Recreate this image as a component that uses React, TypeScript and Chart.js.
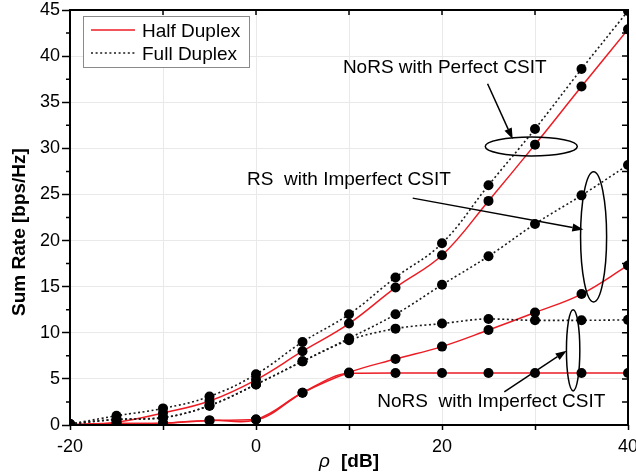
import React, { useEffect, useRef } from 'react';
import { Chart, registerables } from 'chart.js';

Chart.register(...registerables);

// ---------- data ----------
const rho = [-20, -15, -10, -5, 0, 5, 10, 15, 20, 25, 30, 35, 40];
const norsPerfectFD = [0.1, 1.0, 1.8, 3.1, 5.5, 9.0, 12.0, 16.0, 19.7, 26.0, 32.1, 38.6, 44.9];
const norsPerfectHD = [0.05, 0.3, 1.3, 2.6, 4.9, 8.0, 11.0, 14.9, 18.4, 24.3, 30.4, 36.7, 42.9];
const rsImperfectFD = [0.1, 0.6, 0.8, 2.1, 4.4, 6.9, 9.4, 12.0, 15.2, 18.3, 21.8, 24.9, 28.2];
const rsImperfectHD = [0.0, 0.15, 0.2, 0.5, 0.6, 3.5, 5.7, 7.15, 8.5, 10.3, 12.2, 14.2, 17.3];
const norsImperfectFD = [0.1, 0.6, 0.8, 2.1, 4.4, 6.9, 9.2, 10.45, 11.0, 11.5, 11.35, 11.35, 11.4];
const norsImperfectHD = [0.0, 0.15, 0.2, 0.5, 0.6, 3.5, 5.6, 5.63, 5.63, 5.64, 5.64, 5.64, 5.64];

const legendLabels = ['Half Duplex', 'Full Duplex'];
const xTitle = ['ρ', '[dB]'];
const yTitle = 'Sum Rate [bps/Hz]';

// annotations in data units
const annoTexts = [
  { text: 'NoRS with Perfect CSIT', x: 20.3, y: 38.75 },
  { text: 'RS  with Imperfect CSIT', x: 10.0, y: 26.6 },
  { text: 'NoRS  with Imperfect CSIT', x: 25.3, y: 2.5 },
];
const annoEllipses = [
  { cx: 29.6, cy: 30.2, rx: 4.95, ry: 1.03 },
  { cx: 36.3, cy: 20.4, rx: 1.4, ry: 7.05 },
  { cx: 34.1, cy: 8.1, rx: 0.72, ry: 4.4 },
];
const annoArrows = [
  { x1: 24.9, y1: 37.0, x2: 27.6, y2: 31.0 },
  { x1: 16.85, y1: 24.6, x2: 35.2, y2: 21.2 },
  { x1: 26.7, y1: 3.6, x2: 33.4, y2: 8.06 },
];

const RED = 'rgb(236,28,36)';
const DOT = '#1a1a1a';
const FONT = '"Liberation Sans", Arial, sans-serif';

const toPts = (vals: number[]) => rho.map((r, i) => ({ x: r, y: vals[i] }));

const mkSet = (vals: number[], hd: boolean, saturating: boolean) => ({
  data: toPts(vals),
  borderColor: hd ? RED : DOT,
  borderWidth: hd ? 1.5 : 1.6,
  borderDash: hd ? [] : [2, 2.6],
  pointRadius: 5,
  pointHoverRadius: 5,
  pointBackgroundColor: '#000',
  pointBorderColor: '#000',
  pointBorderWidth: 0,
  cubicInterpolationMode: saturating ? ('monotone' as const) : ('default' as const),
  tension: saturating ? 0 : 0.4,
  fill: false,
});

const decorPlugin = {
  id: 'decor',
  afterDraw(chart: any) {
    const { ctx, chartArea: a, scales } = chart;
    const xs = scales.x;
    const ys = scales.y;
    const px = (v: number) => xs.getPixelForValue(v);
    const py = (v: number) => ys.getPixelForValue(v);
    ctx.save();

    // frame
    ctx.strokeStyle = '#000';
    ctx.lineWidth = 2;
    ctx.strokeRect(a.left, a.top, a.right - a.left, a.bottom - a.top);

    // ticks
    ctx.lineWidth = 1.5;
    ctx.beginPath();
    for (let v = 2.5; v < 45; v += 5) {
      const yy = py(v);
      ctx.moveTo(a.left - 4, yy);
      ctx.lineTo(a.left, yy);
    }
    for (let v = 2.5; v < 45; v += 2.5) {
      const yy = py(v);
      ctx.moveTo(a.right, yy);
      ctx.lineTo(a.right - 6, yy);
    }
    for (let v = -10; v < 40; v += 10) {
      const xx = px(v);
      ctx.moveTo(xx, a.top);
      ctx.lineTo(xx, a.top + 5);
    }
    ctx.stroke();

    // annotations
    ctx.strokeStyle = '#000';
    ctx.fillStyle = '#000';
    ctx.lineWidth = 1.5;
    annoEllipses.forEach((e) => {
      const cx = px(e.cx), cy = py(e.cy);
      const rx = Math.abs(px(e.cx + e.rx) - cx);
      const ry = Math.abs(py(e.cy + e.ry) - cy);
      ctx.beginPath();
      ctx.ellipse(cx, cy, rx, ry, 0, 0, Math.PI * 2);
      ctx.stroke();
    });
    annoArrows.forEach((ar) => {
      const x1 = px(ar.x1), y1 = py(ar.y1), x2 = px(ar.x2), y2 = py(ar.y2);
      const ang = Math.atan2(y2 - y1, x2 - x1);
      const L = 11, W = 4;
      const bx = x2 - L * Math.cos(ang), by = y2 - L * Math.sin(ang);
      ctx.beginPath();
      ctx.moveTo(x1, y1);
      ctx.lineTo(bx, by);
      ctx.stroke();
      ctx.beginPath();
      ctx.moveTo(x2, y2);
      ctx.lineTo(bx + W * Math.sin(ang), by - W * Math.cos(ang));
      ctx.lineTo(bx - W * Math.sin(ang), by + W * Math.cos(ang));
      ctx.closePath();
      ctx.fill();
    });
    ctx.font = `19px ${FONT}`;
    ctx.textAlign = 'center';
    ctx.textBaseline = 'middle';
    annoTexts.forEach((t) => {
      ctx.fillText(t.text, px(t.x), py(t.y));
    });

    // legend
    const lx = 83, ly = 16, lw = 166, lh = 51;
    ctx.fillStyle = '#fff';
    ctx.fillRect(lx, ly, lw, lh);
    ctx.strokeStyle = '#8a8a8a';
    ctx.lineWidth = 1;
    ctx.strokeRect(lx + 0.5, ly + 0.5, lw, lh);
    ctx.lineWidth = 1.5;
    ctx.strokeStyle = RED;
    ctx.beginPath();
    ctx.moveTo(91, 30);
    ctx.lineTo(135, 30);
    ctx.stroke();
    ctx.strokeStyle = DOT;
    ctx.setLineDash([2, 2.6]);
    ctx.beginPath();
    ctx.moveTo(91, 53);
    ctx.lineTo(135, 53);
    ctx.stroke();
    ctx.setLineDash([]);
    ctx.fillStyle = '#000';
    ctx.textAlign = 'left';
    ctx.textBaseline = 'alphabetic';
    ctx.font = `19px ${FONT}`;
    ctx.fillText(legendLabels[0], 142, 37);
    ctx.fillText(legendLabels[1], 142, 60);

    // axis titles
    ctx.font = `italic 19px ${FONT}`;
    ctx.fillText(xTitle[0], 319, 467);
    ctx.font = `bold 19px ${FONT}`;
    ctx.fillText(xTitle[1], 341, 467);
    ctx.save();
    ctx.translate(24.5, 232);
    ctx.rotate(-Math.PI / 2);
    ctx.textAlign = 'center';
    ctx.fillText(yTitle, 0, 0);
    ctx.restore();

    ctx.restore();
  },
};

export default function App() {
  const ref = useRef<HTMLCanvasElement>(null);
  useEffect(() => {
    if (!ref.current) return;
    const chart = new Chart(ref.current, {
      type: 'line',
      data: {
        datasets: [
          mkSet(norsPerfectFD, false, false),
          mkSet(rsImperfectFD, false, false),
          mkSet(norsImperfectFD, false, true),
          mkSet(norsPerfectHD, true, false),
          mkSet(rsImperfectHD, true, false),
          mkSet(norsImperfectHD, true, true),
        ] as any,
      },
      options: {
        animation: false,
        responsive: false,
        maintainAspectRatio: false,
        layout: { padding: { left: 0, right: 8, top: 10, bottom: 0 } },
        plugins: { legend: { display: false }, tooltip: { enabled: false } },
        events: [],
        scales: {
          x: {
            type: 'linear',
            min: -20,
            max: 40,
            ticks: {
              stepSize: 10,
              autoSkip: false,
              maxRotation: 0,
              padding: 6,
              color: '#000',
              font: { family: FONT, size: 18 },
              callback: (v: any) => (Number(v) % 20 === 0 ? String(v) : ''),
            },
            grid: { color: '#e9e9e9', lineWidth: 1, tickColor: '#000', tickLength: 5, tickWidth: 1.5 },
            border: { display: false },
            afterFit: (s: any) => {
              s.height = 48;
              s.paddingLeft = 0;
              s.paddingRight = 0;
            },
          },
          y: {
            type: 'linear',
            min: 0,
            max: 45,
            ticks: {
              stepSize: 5,
              padding: 2,
              color: '#000',
              font: { family: FONT, size: 18 },
            },
            grid: { color: '#e9e9e9', lineWidth: 1, tickColor: '#000', tickLength: 8, tickWidth: 1.5 },
            border: { display: false },
            afterFit: (s: any) => {
              s.width = 70;
              s.paddingTop = 0;
              s.paddingBottom = 0;
            },
          },
        },
      },
      plugins: [decorPlugin],
    });
    return () => chart.destroy();
  }, []);
  return (
    <div style={{ position: 'fixed', left: 0, top: 0, width: 636, height: 473, background: '#fff' }}>
      <canvas ref={ref} width={636} height={473} style={{ width: 636, height: 473 }} />
    </div>
  );
}
